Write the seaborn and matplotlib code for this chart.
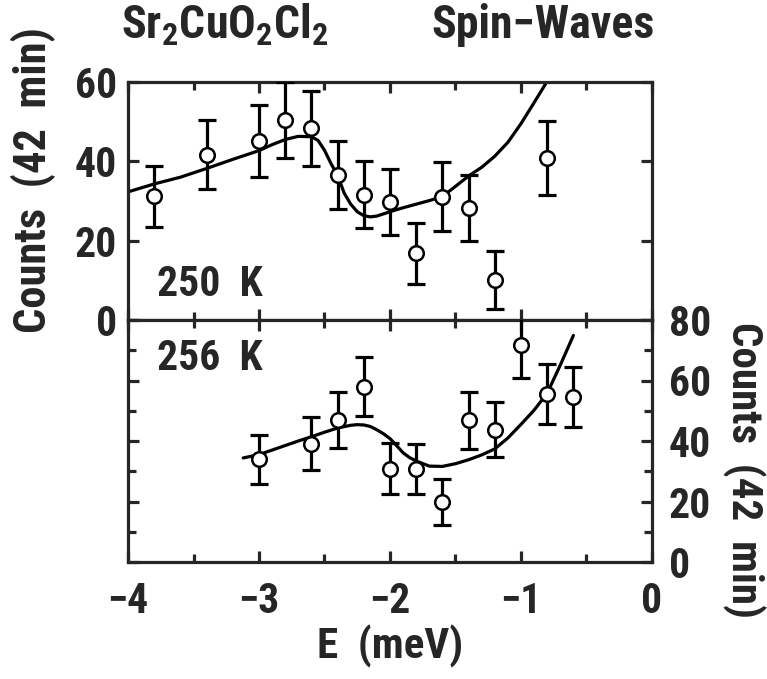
import numpy as np
import pandas as pd
import matplotlib
matplotlib.use("Agg")
import matplotlib.pyplot as plt
import seaborn as sns
from matplotlib.ticker import MultipleLocator

# ---------------- data ----------------
# 250 K panel (top)
e_250 = [-3.8, -3.4, -3.0, -2.8, -2.6, -2.4, -2.2, -2.0, -1.8, -1.6, -1.4, -1.2, -0.8]
c_250 = [31.2, 41.7, 45.1, 50.4, 48.3, 36.5, 31.6, 29.8, 16.8, 31.1, 28.2, 10.1, 40.8]
err_250 = [7.7, 8.6, 9.0, 9.5, 9.4, 8.6, 8.4, 8.3, 7.6, 8.7, 8.4, 7.3, 9.3]

fit_e_250 = [-4.0, -3.8, -3.6, -3.4, -3.2, -3.0, -2.9, -2.8, -2.7, -2.6, -2.55, -2.5, -2.45,
             -2.4, -2.35, -2.3, -2.25, -2.2, -2.15, -2.1, -2.0, -1.9, -1.8, -1.7, -1.6, -1.5,
             -1.4, -1.3, -1.2, -1.1, -1.0, -0.9, -0.85, -0.8]
fit_c_250 = [32.3, 34.3, 36.0, 38.2, 40.5, 42.7, 44.2, 45.5, 46.3, 46.2, 45.3, 42.8, 39.4,
             36.5, 32.0, 29.2, 27.3, 26.3, 26.0, 26.2, 27.3, 28.3, 29.2, 30.1, 31.1, 33.7,
             36.3, 38.5, 41.3, 44.8, 49.5, 54.8, 57.5, 60.2]

# 256 K panel (bottom)
e_256 = [-3.0, -2.6, -2.4, -2.2, -2.0, -1.8, -1.6, -1.4, -1.2, -1.0, -0.8, -0.6]
c_256 = [33.9, 39.1, 47.0, 58.0, 30.8, 30.8, 19.8, 46.8, 43.8, 71.6, 55.6, 54.5]
err_256 = [8.1, 8.7, 9.2, 9.8, 8.4, 8.2, 7.7, 9.5, 9.2, 10.7, 10.0, 10.0]

fit_e_256 = [-3.12, -3.0, -2.9, -2.8, -2.7, -2.6, -2.5, -2.4, -2.3, -2.25, -2.2, -2.15, -2.1,
             -2.05, -2.0, -1.95, -1.9, -1.85, -1.8, -1.7, -1.6, -1.5, -1.4, -1.3, -1.2,
             -1.1, -1.0, -0.9, -0.8, -0.7, -0.6]
fit_c_256 = [34.4, 35.5, 37.0, 38.5, 40.0, 41.4, 42.9, 44.3, 45.2, 45.4, 45.3, 44.8, 43.7,
             42.4, 40.8, 38.5, 36.1, 34.5, 33.4, 31.7, 31.6, 32.5, 33.8, 35.4, 37.4,
             41.0, 45.5, 50.2, 55.8, 65.1, 74.9]

x_ticks = [-4, -3, -2, -1, 0]
x_ticklabels = ["\u22124", "\u22123", "\u22122", "\u22121", "0"]
top_yticks = [0, 20, 40, 60]
bot_yticks = [0, 20, 40, 60, 80]

# ---------------- style ----------------
sns.set_style("ticks")
FONT = ["Roboto Condensed", "Liberation Sans", "DejaVu Sans"]
plt.rcParams["font.family"] = FONT
plt.rcParams["font.weight"] = "bold"
plt.rcParams["mathtext.fontset"] = "custom"
plt.rcParams["mathtext.rm"] = "Roboto Condensed:bold"
plt.rcParams["mathtext.bf"] = "Roboto Condensed:bold"
plt.rcParams["mathtext.default"] = "bf"

FS = 30
LW = 2.3

W, H = 767, 679
L, R, T, M, B = 128, 652, 82, 320, 562

fig = plt.figure(figsize=(W / 100, H / 100), dpi=100)
ax_top = fig.add_axes([L / W, 1 - M / H, (R - L) / W, (M - T) / H])
ax_bot = fig.add_axes([L / W, 1 - B / H, (R - L) / W, (B - M) / H])

df_top = pd.DataFrame({"E": fit_e_250, "C": fit_c_250})
df_bot = pd.DataFrame({"E": fit_e_256, "C": fit_c_256})
pts_top = pd.DataFrame({"E": e_250, "C": c_250})
pts_bot = pd.DataFrame({"E": e_256, "C": c_256})

for ax, df, pts, err in [(ax_top, df_top, pts_top, err_250), (ax_bot, df_bot, pts_bot, err_256)]:
    sns.lineplot(data=df, x="E", y="C", ax=ax, color="black", lw=LW, zorder=2, sort=False)
    ax.errorbar(pts["E"], pts["C"], yerr=err, fmt="none", ecolor="black",
                elinewidth=LW, capsize=6.5, capthick=LW, zorder=3)
    sns.scatterplot(data=pts, x="E", y="C", ax=ax, marker="o", s=110,
                    facecolor="white", edgecolor="black", linewidth=1.8, zorder=4)
    ax.set_xlim(-4, 0)
    ax.set_xlabel("")
    ax.set_ylabel("")
    for sp in ax.spines.values():
        sp.set_visible(True)
        sp.set_linewidth(LW)
    ax.xaxis.set_major_locator(MultipleLocator(1))
    ax.xaxis.set_minor_locator(MultipleLocator(0.5))
    ax.tick_params(which="both", direction="in", top=True, bottom=True, left=True, right=True,
                   width=LW, labelsize=FS, pad=8)
    ax.tick_params(which="major", length=8)
    ax.tick_params(which="minor", length=6)

# top panel
ax_top.set_ylim(0, 60)
ax_top.set_yticks(top_yticks)
ax_top.yaxis.set_minor_locator(MultipleLocator(20))
ax_top.tick_params(labelbottom=False, labelleft=True, labelright=False)
for lab in ax_top.get_yticklabels():
    lab.set_fontweight("bold")
ax_top.text(-3.78, 3.8, "250  K", fontsize=FS, fontweight="bold", ha="left", va="bottom")

# bottom panel
ax_bot.set_ylim(0, 80)
ax_bot.set_yticks(bot_yticks)
ax_bot.yaxis.set_minor_locator(MultipleLocator(10))
ax_bot.set_xticks(x_ticks)
ax_bot.set_xticklabels(x_ticklabels)
ax_bot.tick_params(axis="x", pad=14)
ax_bot.tick_params(axis="y", pad=12)
ax_bot.tick_params(labelbottom=True, labelleft=False, labelright=True)
ax_bot.text(-3.78, 60.5, "256  K", fontsize=FS, fontweight="bold", ha="left", va="bottom")
for lab in ax_bot.get_xticklabels() + ax_bot.get_yticklabels():
    lab.set_fontweight("bold")

ax_bot.set_xlabel("E  (meV)", fontsize=FS + 1, fontweight="bold", labelpad=2)

fig.text(33 / W, 1 - 180 / H, "Counts  (42  min)", rotation=90, fontsize=FS + 2,
         fontweight="bold", ha="center", va="center")
fig.text(744 / W, 1 - 470 / H, "Counts  (42  min)", rotation=-90, fontsize=FS + 1,
         fontweight="bold", ha="center", va="center")

fig.text(121 / W, 1 - 38 / H, r"Sr$_2$CuO$_2$Cl$_2$", fontsize=FS + 3,
         fontweight="bold", ha="left", va="baseline")
fig.text(655 / W, 1 - 38 / H, "Spin\u2212Waves", fontsize=FS + 3,
         fontweight="bold", ha="right", va="baseline")

fig.savefig("out.png", dpi=100)
